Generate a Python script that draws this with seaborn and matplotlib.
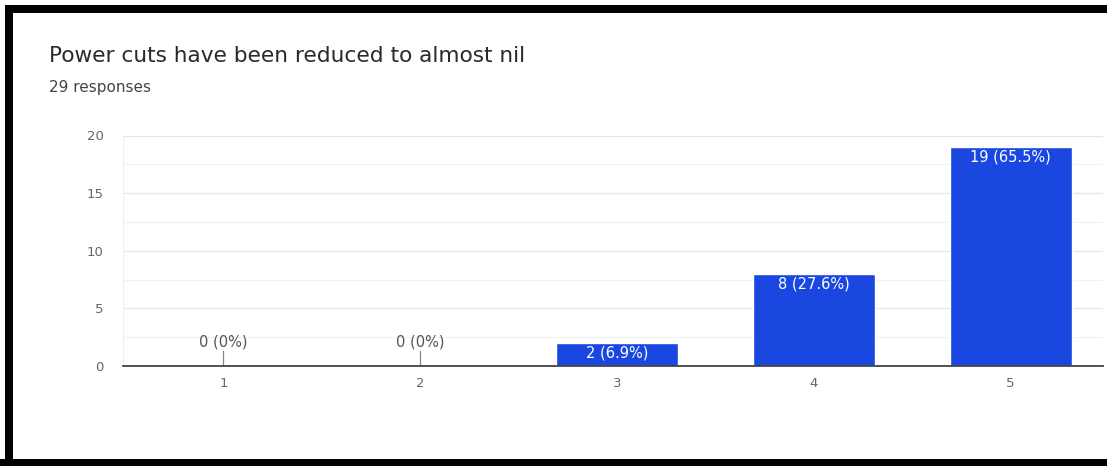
import matplotlib
matplotlib.use("Agg")
import matplotlib.pyplot as plt
from matplotlib.patches import Rectangle
import seaborn as sns

# Survey question and answers
title = "Power cuts have been reduced to almost nil"
subtitle = "29 responses"
ratings = ["1", "2", "3", "4", "5"]
counts = [0, 0, 2, 8, 19]
total = 29
y_ticks = [0, 5, 10, 15, 20]

BAR = "#1a47df"
W, H = 1107, 466

sns.set_theme(style="white")
plt.rcParams["font.family"] = ["DejaVu Sans"]

fig = plt.figure(figsize=(W / 100, H / 100), dpi=100)
fig.patch.set_facecolor("white")

ax = fig.add_axes([123 / W, 1 - 366 / H, (1103 - 123) / W, 230.5 / H])

sns.barplot(x=ratings, y=counts, color=BAR, width=0.62, saturation=1,
            ax=ax, zorder=3)

ax.set_ylim(0, 20)
ax.set_xlim(-0.51, 4.47)
ax.set_yticks(y_ticks)
ax.set_yticks([2.5, 7.5, 12.5, 17.5], minor=True)
ax.grid(axis="y", which="major", color="#e6e6e6", linewidth=0.9, zorder=0)
ax.grid(axis="y", which="minor", color="#f2f2f2", linewidth=0.9, zorder=0)
ax.set_axisbelow(True)
ax.tick_params(axis="both", which="both", length=0, colors="#666666",
               labelsize=9.5)
ax.tick_params(axis="y", pad=14)
ax.tick_params(axis="x", pad=8)
ax.set_xlabel("")
ax.set_ylabel("")

for side in ("top", "right"):
    ax.spines[side].set_visible(False)
ax.spines["left"].set_color("#f0f0f0")
ax.spines["left"].set_linewidth(0.8)
ax.spines["bottom"].set_color("#444444")
ax.spines["bottom"].set_linewidth(1.3)
ax.spines["bottom"].set_zorder(5)


def pct_text(n):
    p = f"{n / total * 100:.1f}".rstrip("0").rstrip(".")
    return f"{n} ({p}%)"


for i, n in enumerate(counts):
    if n == 0:
        ax.plot([i, i], [0, 1.3], color="#888888", linewidth=0.9, zorder=4)
        ax.text(i, 2.05, pct_text(n), ha="center", va="center",
                fontsize=10.5, color="#555555", zorder=4)
    else:
        ax.text(i, n - 0.9, pct_text(n), ha="center", va="center",
                fontsize=10.5, color="white", zorder=4)

fig.text(49 / W, 1 - 62 / H, title, fontsize=15.6, color="#2a2a2a",
         va="baseline", ha="left")
fig.text(49 / W, 1 - 92 / H, subtitle, fontsize=11, color="#444444",
         va="baseline", ha="left")

# Black frame around the card
frame = dict(facecolor="black", edgecolor="none", transform=fig.transFigure,
             zorder=10)
fig.add_artist(Rectangle((5 / W, 0), 8 / W, (H - 5) / H, **frame))
fig.add_artist(Rectangle((5 / W, 1 - 13 / H), (W - 5) / W, 8 / H, **frame))
fig.add_artist(Rectangle((0, 0), 1, 7 / H, **frame))

fig.savefig("out.png", dpi=100, facecolor="white")
